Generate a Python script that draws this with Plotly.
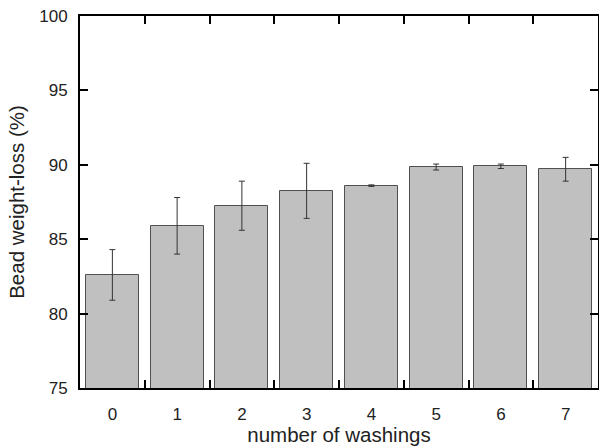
import plotly.graph_objects as go

washings = ["0", "1", "2", "3", "4", "5", "6", "7"]
weight_loss = [82.6, 85.9, 87.25, 88.25, 88.6, 89.85, 89.9, 89.7]
error = [1.7, 1.9, 1.65, 1.85, 0.05, 0.2, 0.15, 0.8]
y_ticks = [75, 80, 85, 90, 95, 100]

fig = go.Figure(go.Bar(
    x=washings, y=weight_loss,
    width=0.82,
    marker=dict(color="#c0c0c0", line=dict(color="#505050", width=1)),
    error_y=dict(type="data", array=error, visible=True, color="#333333", thickness=1, width=3),
))

font_family = "Liberation Sans, Arial, sans-serif"
fig.update_layout(
    width=599, height=446,
    margin=dict(l=80, r=1, t=16, b=58),
    plot_bgcolor="white", paper_bgcolor="white",
    showlegend=False,
    font=dict(family=font_family, color="#222222", size=17),
    bargap=0,
)
fig.update_xaxes(
    type="category", range=[-0.5, 7.5],
    tickson="boundaries", ticks="inside", ticklen=8, tickwidth=2, tickcolor="black",
    showline=True, linecolor="black", linewidth=2, mirror="ticks",
    showgrid=False, zeroline=False, automargin=False,
    tickfont=dict(size=17), ticklabeloverflow="allow",
    ticklabelstandoff=10,
    title=dict(text="number of washings", font=dict(size=20.5), standoff=7),
)
fig.update_yaxes(
    range=[75, 100], tickvals=y_ticks,
    ticks="inside", ticklen=8, tickwidth=2, tickcolor="black",
    showline=True, linecolor="black", linewidth=2, mirror="ticks",
    showgrid=False, zeroline=False, automargin=False,
    tickfont=dict(size=17), ticklabeloverflow="allow",
    ticklabelstandoff=7,
    title=dict(text="Bead weight-loss (%)", font=dict(size=20.5), standoff=9),
)
fig.write_html(
    "out.html",
    config={"displayModeBar": False},
    post_script="document.body.style.margin='0px';document.body.style.overflow='hidden';",
)
